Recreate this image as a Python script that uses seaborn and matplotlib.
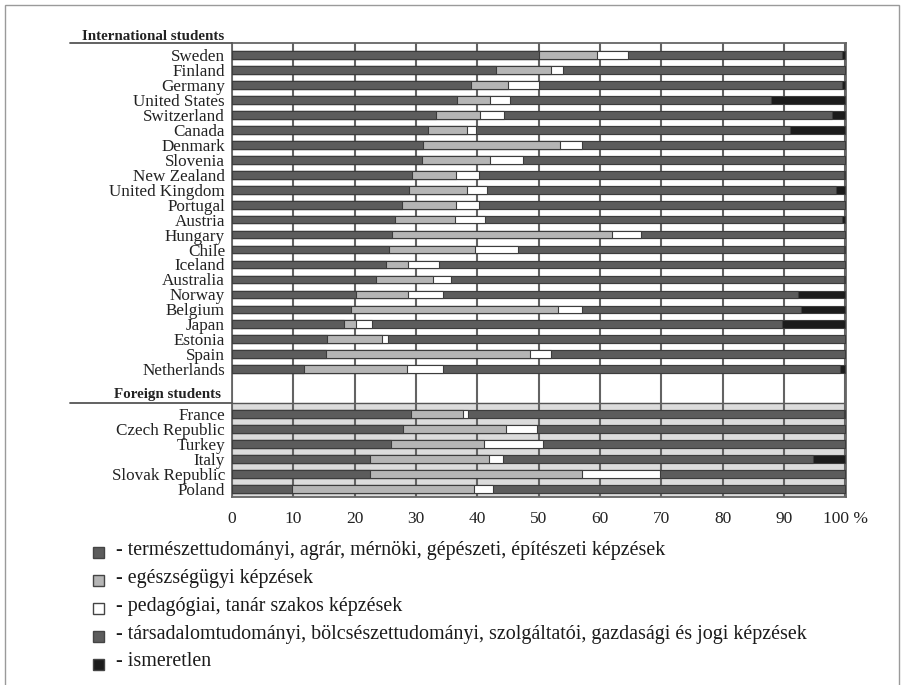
import numpy as np
import pandas as pd
import seaborn as sns
import matplotlib.pyplot as plt
from matplotlib.patches import Rectangle
from matplotlib.lines import Line2D

# share of students by field of study (%)
intl_countries = ["Sweden", "Finland", "Germany", "United States", "Switzerland",
                  "Canada", "Denmark", "Slovenia", "New Zealand", "United Kingdom",
                  "Portugal", "Austria", "Hungary", "Chile", "Iceland", "Australia",
                  "Norway", "Belgium", "Japan", "Estonia", "Spain", "Netherlands"]
foreign_countries = ["France", "Czech Republic", "Turkey", "Italy",
                     "Slovak Republic", "Poland"]

natural = [50, 43, 39, 36.7, 33.3, 32, 31.2, 31, 29.4, 28.9, 27.7, 26.6, 26.1,
           25.6, 25.1, 23.5, 20.2, 19.4, 18.3, 15.5, 15.3, 11.7,
           29.2, 27.9, 25.9, 22.5, 22.5, 9.8]
health = [9.5, 9, 6, 5.3, 7.2, 6.3, 22.3, 11, 7.1, 9.4, 8.8, 9.8, 35.9, 14, 3.6,
          9.3, 8.5, 33.8, 1.9, 9, 33.3, 16.8,
          8.5, 16.8, 15.2, 19.4, 34.6, 29.7]
teacher = [5, 2, 5, 3.4, 3.9, 1.5, 3.6, 5.5, 3.8, 3.3, 3.8, 4.9, 4.7, 7.1, 5.1,
           2.9, 5.7, 3.9, 2.6, 0.9, 3.4, 5.9,
           0.8, 5.1, 9.6, 2.3, 12.7, 3.1]
social = [35, 46, 49.5, 42.4, 53.5, 51.2, 42.9, 52.5, 59.4, 56.9, 59.7, 58.2,
          33.3, 53, 66.2, 64, 57.9, 35.6, 66.9, 74.6, 48, 64.8,
          61.3, 50.2, 49.3, 50.6, 30.2, 57.4]
unknown = [0.5, 0, 0.5, 12.2, 2.1, 9, 0, 0, 0.3, 1.5, 0, 0.5, 0, 0.3, 0, 0.3,
           7.7, 7.3, 10.3, 0, 0, 0.8,
           0.2, 0, 0, 5.2, 0, 0]

legend_labels = [
    "- természettudományi, agrár, mérnöki, gépészeti, építészeti képzések",
    "- egészségügyi képzések",
    "- pedagógiai, tanár szakos képzések",
    "- társadalomtudományi, bölcsészettudományi, szolgáltatói, gazdasági és jogi képzések",
    "- ismeretlen",
]
colors = ["#5c5c5c", "#b5b5b5", "#ffffff", "#5c5c5c", "#1c1c1c"]
edge = "#3c3c3c"

df = pd.DataFrame({"country": intl_countries + foreign_countries,
                   "natural": natural, "health": health, "teacher": teacher,
                   "social": social, "unknown": unknown})
df["c1"] = df["natural"]
df["c2"] = df["c1"] + df["health"]
df["c3"] = df["c2"] + df["teacher"]
df["c4"] = df["c3"] + df["social"]
df["c5"] = df["c4"] + df["unknown"]

order = intl_countries + ["gap_a", "gap_b"] + foreign_countries

sns.set_theme(style="white")
plt.rcParams["font.family"] = ["Liberation Serif", "DejaVu Serif"]

fig = plt.figure(figsize=(9.04, 6.85), dpi=100)
ax = fig.add_axes([0.2566, 0.2745, 0.6792, 0.6628])

# longest cumulative bar first, shorter ones laid on top
for col, c in zip(["c5", "c4", "c3", "c2", "c1"], colors[::-1]):
    sns.barplot(data=df, x=col, y="country", order=order, orient="h",
                color=c, saturation=1, width=0.52, errorbar=None,
                edgecolor=edge, linewidth=0.8, zorder=3, ax=ax)

ax.axhspan(23.25, 30, color="#dcdcdc", zorder=0.2)
ax.axhline(23.25, color="#555555", lw=1.0, zorder=0.3)

ax.set_xlim(0, 100.1)
ax.set_ylim(29.53, -0.8)
ax.set_xticks(range(0, 101, 10))
ax.set_xticklabels([str(v) for v in range(0, 100, 10)] + ["100 %"])
ax.grid(axis="x", color="#636363", lw=1.5)
ax.grid(axis="y", visible=False)
ax.set_axisbelow(True)

pos = [order.index(c) for c in intl_countries + foreign_countries]
ax.set_yticks(pos)
ax.set_yticklabels(intl_countries + foreign_countries)
ax.set_xlabel("")
ax.set_ylabel("")
ax.tick_params(axis="y", length=0, pad=5, labelsize=12.3, labelcolor="#222222")
ax.tick_params(axis="x", length=0, pad=10, labelsize=12.5, labelcolor="#222222")
for s in ax.spines.values():
    s.set_color("#666666")
    s.set_linewidth(1.3)

ax.text(-1.2, -1.25, "International students", ha="right", va="center",
        fontsize=10.8, fontweight="bold", color="#222222", clip_on=False)
ax.text(-1.8, 22.7, "Foreign students", ha="right", va="center",
        fontsize=10.8, fontweight="bold", color="#222222", clip_on=False)
fig.add_artist(Line2D([0.0774, 0.2566], [0.9372, 0.9372], color="#555555", lw=1.3))
fig.add_artist(Line2D([0.0774, 0.2566], [0.4117, 0.4117], color="#555555", lw=1.3))

# legend drawn by hand below the chart
legend_y = [550, 578, 606, 634, 662]
for lab, c, y in zip(legend_labels, colors, legend_y):
    fig.add_artist(Rectangle((93 / 904, 1 - (y + 8) / 685), 11 / 904, 11 / 685,
                             facecolor=c, edgecolor="#444444", lw=1.0))
    fig.text(116 / 904, 1 - y / 685, lab, ha="left", va="center",
             fontsize=14.4, color="#1a1a1a")

fig.add_artist(Rectangle((0.005, -0.01), 0.989, 1.003, fill=False,
                         edgecolor="#9a9a9a", lw=1.0))

fig.savefig("out.png", dpi=100)
